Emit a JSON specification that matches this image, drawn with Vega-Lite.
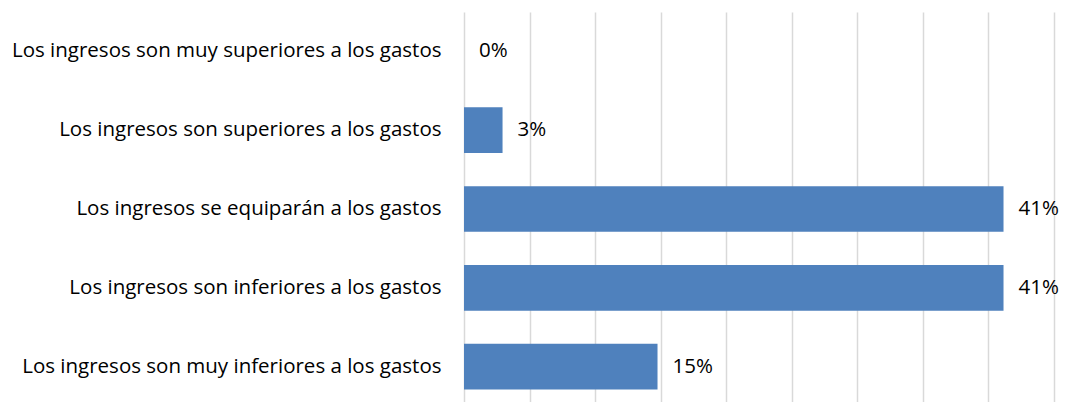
{
  "$schema": "https://vega.github.io/schema/vega-lite/v6.json",
  "width": 590,
  "height": 394,
  "autosize": {"type": "none"},
  "padding": {"left": 464, "top": 12, "right": 11, "bottom": 0},
  "background": "white",
  "config": {"view": {"stroke": null}, "font": "Open Sans"},
  "data": {
    "values": [
      {"categoria": "Los ingresos son muy superiores a los gastos", "valor": 0.0},
      {"categoria": "Los ingresos son superiores a los gastos", "valor": 0.0294},
      {"categoria": "Los ingresos se equiparán a los gastos", "valor": 0.4115},
      {"categoria": "Los ingresos son inferiores a los gastos", "valor": 0.4115},
      {"categoria": "Los ingresos son muy inferiores a los gastos", "valor": 0.1476}
    ]
  },
  "encoding": {
    "y": {
      "field": "categoria",
      "type": "nominal",
      "sort": null,
      "title": null,
      "scale": {"paddingInner": 0.42, "paddingOuter": 0.21},
      "axis": {
        "domain": false,
        "ticks": false,
        "labelPadding": 23,
        "labelFontSize": 20.5,
        "labelFont": "Open Sans",
        "labelColor": "#000000",
        "labelLimit": 500
      }
    },
    "x": {
      "field": "valor",
      "type": "quantitative",
      "title": null,
      "scale": {"domain": [0, 0.45], "nice": false},
      "axis": {
        "values": [0, 0.05, 0.1, 0.15, 0.2, 0.25, 0.3, 0.35, 0.4, 0.45],
        "labels": false,
        "ticks": false,
        "domain": false,
        "grid": true,
        "gridColor": "#d9d9d9",
        "gridWidth": 1.5
      }
    }
  },
  "layer": [
    {"mark": {"type": "bar", "color": "#4f81bd"}},
    {
      "mark": {"type": "text", "align": "left", "baseline": "middle", "dx": 15, "fontSize": 20.5, "font": "Open Sans", "color": "#000000"},
      "encoding": {"text": {"field": "valor", "type": "quantitative", "format": ".0%"}}
    }
  ]
}
